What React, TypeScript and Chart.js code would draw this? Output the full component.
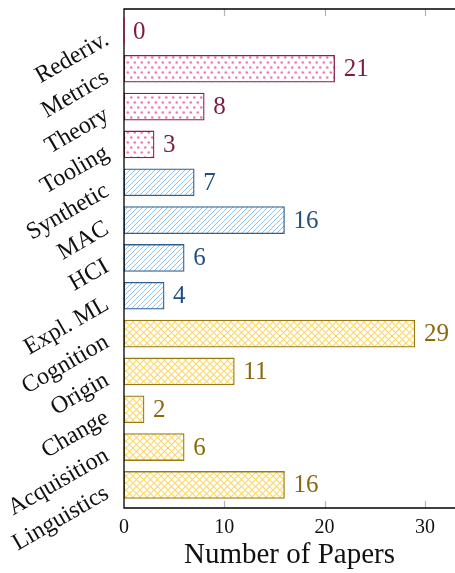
import React, { useEffect, useRef } from "react";
import { Chart, registerables } from "chart.js";

Chart.register(...registerables);

const categories = [
  "Rederiv.", "Metrics", "Theory", "Tooling",
  "Synthetic", "MAC", "HCI", "Expl. ML",
  "Cognition", "Origin", "Change", "Acquisition", "Linguistics",
];
const paperCounts = [0, 21, 8, 3, 7, 16, 6, 4, 29, 11, 2, 6, 16];
const groupOf = [0, 0, 0, 0, 1, 1, 1, 1, 2, 2, 2, 2, 2];
const xTickValues = [0, 10, 20, 30];
const xAxisTitle = "Number of Papers";

const borderColors = ["#8a1f4d", "#2e5f8f", "#9c7a12"];
const textColors = ["#7d1c45", "#24507d", "#8a680c"];
const patternColors = ["#f07aac", "#8ec3f2", "#fbd868"];

const FONT = "'Liberation Serif', 'Times New Roman', serif";

function makePattern(kind: number): CanvasPattern | string {
  const c = document.createElement("canvas");
  const color = patternColors[kind];
  if (kind === 0) {
    c.width = 7; c.height = 10;
    const g = c.getContext("2d")!;
    g.fillStyle = "#ffffff"; g.fillRect(0, 0, 7, 10);
    g.fillStyle = color;
    g.beginPath(); g.arc(1.75, 2.5, 1.3, 0, Math.PI * 2); g.fill();
    g.beginPath(); g.arc(5.25, 7.5, 1.3, 0, Math.PI * 2); g.fill();
  } else if (kind === 1) {
    c.width = 5; c.height = 5;
    const g = c.getContext("2d")!;
    g.fillStyle = "#ffffff"; g.fillRect(0, 0, 5, 5);
    g.strokeStyle = color; g.lineWidth = 1;
    g.beginPath();
    g.moveTo(-1, 6); g.lineTo(6, -1);
    g.moveTo(-1, 1); g.lineTo(1, -1);
    g.moveTo(4, 6); g.lineTo(6, 4);
    g.stroke();
  } else {
    c.width = 7; c.height = 7;
    const g = c.getContext("2d")!;
    g.fillStyle = "#ffffff"; g.fillRect(0, 0, 7, 7);
    g.strokeStyle = color; g.lineWidth = 1.1;
    g.beginPath();
    g.moveTo(-1, 8); g.lineTo(8, -1);
    g.moveTo(-1, -1); g.lineTo(8, 8);
    g.stroke();
  }
  const ctx = c.getContext("2d")!;
  return ctx.createPattern(c, "repeat") || color;
}

export default function App() {
  const ref = useRef<HTMLCanvasElement | null>(null);

  useEffect(() => {
    if (!ref.current) return;
    const patterns = [makePattern(0), makePattern(1), makePattern(2)];

    const framePlugin = {
      id: "frame",
      afterDraw(chart: any) {
        const { ctx, chartArea } = chart;
        const x = chart.scales.x;
        ctx.save();
        ctx.strokeStyle = "#b4b4b4";
        ctx.lineWidth = 1.2;
        for (const v of xTickValues) {
          if (v === 0) continue;
          const px = Math.round(x.getPixelForValue(v)) + 0.5;
          ctx.beginPath();
          ctx.moveTo(px, chartArea.bottom);
          ctx.lineTo(px, chartArea.bottom - 7);
          ctx.moveTo(px, chartArea.top);
          ctx.lineTo(px, chartArea.top + 7);
          ctx.stroke();
        }
        ctx.strokeStyle = "#000000";
        ctx.lineWidth = 1.3;
        ctx.beginPath();
        ctx.moveTo(chartArea.right + 2, chartArea.top);
        ctx.lineTo(chartArea.left, chartArea.top);
        ctx.lineTo(chartArea.left, chartArea.bottom);
        ctx.lineTo(chartArea.right + 2, chartArea.bottom);
        ctx.stroke();
        // zero-length bars keep their border edge on the axis
        const meta = chart.getDatasetMeta(0);
        meta.data.forEach((el: any, i: number) => {
          if (paperCounts[i] !== 0) return;
          const h = el.height / 2;
          ctx.strokeStyle = borderColors[groupOf[i]];
          ctx.lineWidth = 1.5;
          ctx.beginPath();
          ctx.moveTo(el.x, el.y - h);
          ctx.lineTo(el.x, el.y + h);
          ctx.stroke();
        });
        ctx.restore();
      },
    };

    const valueLabels = {
      id: "valueLabels",
      afterDatasetsDraw(chart: any) {
        const { ctx } = chart;
        const meta = chart.getDatasetMeta(0);
        ctx.save();
        ctx.font = `25px ${FONT}`;
        ctx.textAlign = "left";
        ctx.textBaseline = "middle";
        meta.data.forEach((el: any, i: number) => {
          ctx.fillStyle = textColors[groupOf[i]];
          ctx.fillText(String(paperCounts[i]), el.x + 9, el.y + 1);
        });
        ctx.restore();
      },
    };

    const chart = new Chart(ref.current, {
      type: "bar",
      data: {
        datasets: [
          {
            data: paperCounts.map((v, i) => ({ x: v, y: i })),
            backgroundColor: groupOf.map((g) => patterns[g]) as any,
            borderColor: groupOf.map((g) => borderColors[g]),
            borderWidth: 1.3,
            barThickness: 27,
            borderSkipped: false,
          },
        ],
      },
      options: {
        indexAxis: "y",
        responsive: false,
        animation: false,
        devicePixelRatio: 1,
        layout: { padding: { top: 9, left: 0, right: 0, bottom: 0 } },
        plugins: {
          legend: { display: false },
          tooltip: { enabled: false },
        },
        scales: {
          x: {
            type: "linear",
            min: 0,
            max: 33,
            offset: false,
            afterBuildTicks(scale: any) {
              scale.ticks = xTickValues.map((v) => ({ value: v }));
            },
            afterFit(scale: any) {
              scale.height = 65;
              scale.paddingLeft = 0;
              scale.paddingRight = 0;
            },
            grid: { display: false, drawTicks: false },
            border: { display: false },
            ticks: {
              padding: 8,
              color: "#111111",
              font: { family: FONT, size: 20 },
              includeBounds: false,
            },
            title: {
              display: true,
              text: xAxisTitle,
              color: "#111111",
              font: { family: FONT, size: 29 },
              padding: { top: 0, bottom: 0 },
            },
          },
          y: {
            type: "linear",
            reverse: true,
            offset: false,
            min: -0.58,
            max: 12.61,
            afterBuildTicks(scale: any) {
              scale.ticks = categories.map((_, i) => ({ value: i }));
            },
            afterFit(scale: any) {
              scale.width = 124;
              scale.paddingTop = 0;
              scale.paddingBottom = 0;
            },
            grid: { display: false, drawTicks: false, offset: false },
            border: { display: false },
            ticks: {
              autoSkip: false,
              padding: 17,
              labelOffset: 7,
              minRotation: 30,
              maxRotation: 30,
              color: "#111111",
              font: { family: FONT, size: 24 },
              callback: (v: any) => categories[v as number] ?? "",
            },
          },
        },
      },
      plugins: [framePlugin, valueLabels],
    } as any);

    return () => chart.destroy();
  }, []);

  return (
    <div style={{ position: "fixed", left: 0, top: 0, width: 455, height: 573, background: "#ffffff" }}>
      <canvas ref={ref} width={455} height={573} style={{ width: 455, height: 573, display: "block" }} />
    </div>
  );
}
